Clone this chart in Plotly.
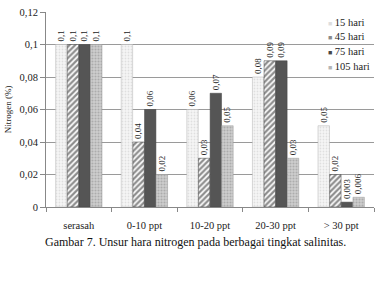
import plotly.graph_objects as go

categories = ["serasah", "0-10 ppt", "10-20 ppt", "20-30 ppt", "> 30 ppt"]
series_names = ["15 hari", "45 hari", "75 hari", "105 hari"]
v15 = [0.1, 0.1, 0.06, 0.08, 0.05]
v45 = [0.1, 0.04, 0.03, 0.09, 0.02]
v75 = [0.1, 0.06, 0.07, 0.09, 0.003]
v105 = [0.1, 0.02, 0.05, 0.03, 0.006]
ytick_vals = [0, 0.02, 0.04, 0.06, 0.08, 0.1, 0.12]
ytick_text = ["0", "0,02", "0,04", "0,06", "0,08", "0,1", "0,12"]
legend_swatch = ["#dedede", "#8a8a8a", "#474747", "#b5b5b5"]

SERIF = "Liberation Serif, Times New Roman, serif"

def fmt(v):
    return ("%g" % v).replace(".", ",")

styles = [
    dict(color="#ececec", pattern=dict(shape=".", fgcolor="#c8c8c8", bgcolor="#f6f6f6", size=3, solidity=0.3), line=dict(color="#b0b0b0", width=0.5)),
    dict(color="white", pattern=dict(shape="/", fgcolor="#1a1a1a", bgcolor="#ffffff", size=4, solidity=0.55), line=dict(color="#444", width=0.5)),
    dict(color="#555555", line=dict(color="#444", width=0.5)),
    dict(color="#b8b8b8", pattern=dict(shape=".", fgcolor="#8a8a8a", bgcolor="#cfcfcf", size=3, solidity=0.4), line=dict(color="#999", width=0.5)),
]

fig = go.Figure()
for name, vals, st in zip(series_names, [v15, v45, v75, v105], styles):
    fig.add_trace(go.Bar(
        x=categories, y=vals, name=name, marker=st,
        text=[fmt(v) for v in vals], textposition="outside", textangle=-90,
        textfont=dict(family=SERIF, size=9.5, color="#222"),
        cliponaxis=False, showlegend=False,
    ))

fig.update_layout(
    width=381, height=293, barmode="group", bargap=0.29, bargroupgap=0.02,
    margin=dict(l=43, r=7, t=11, b=86),
    paper_bgcolor="white", plot_bgcolor="white",
    font=dict(family=SERIF, size=10, color="#222"),
    uniformtext=dict(minsize=8, mode="show"),
)
fig.update_xaxes(showline=True, linecolor="#888", linewidth=1, ticks="outside", tickson="boundaries",
                 ticklen=4, tickcolor="#888", showgrid=False, tickfont=dict(family=SERIF, size=10.5),
                 ticklabelstandoff=8)
fig.update_yaxes(range=[0, 0.12], tickvals=ytick_vals, ticktext=ytick_text, showgrid=True,
                 gridcolor="#9a9a9a", gridwidth=1, showline=True, linecolor="#888", ticks="outside",
                 ticklen=5, tickcolor="#888", tickfont=dict(family=SERIF, size=10.5), zeroline=False,
                 title=dict(text="Nitrogen (%)", font=dict(family=SERIF, size=9), standoff=6))

leg_y = [0.944, 0.872, 0.796, 0.719]
for name, col, yy in zip(series_names, legend_swatch, leg_y):
    fig.add_annotation(text="<span style='color:%s;font-size:7px'>■</span> %s" % (col, name),
                       xref="paper", yref="paper", x=0.855, y=yy, xanchor="left", yanchor="middle",
                       showarrow=False, font=dict(family=SERIF, size=10.5, color="#222"))

fig.add_annotation(text="Gambar 7. Unsur hara nitrogen pada berbagai tingkat salinitas.",
                   xref="paper", yref="paper", x=-0.01, y=-0.178, xanchor="left", yanchor="middle",
                   showarrow=False, font=dict(family=SERIF, size=12, color="#111"))
fig.write_html("out.html")
